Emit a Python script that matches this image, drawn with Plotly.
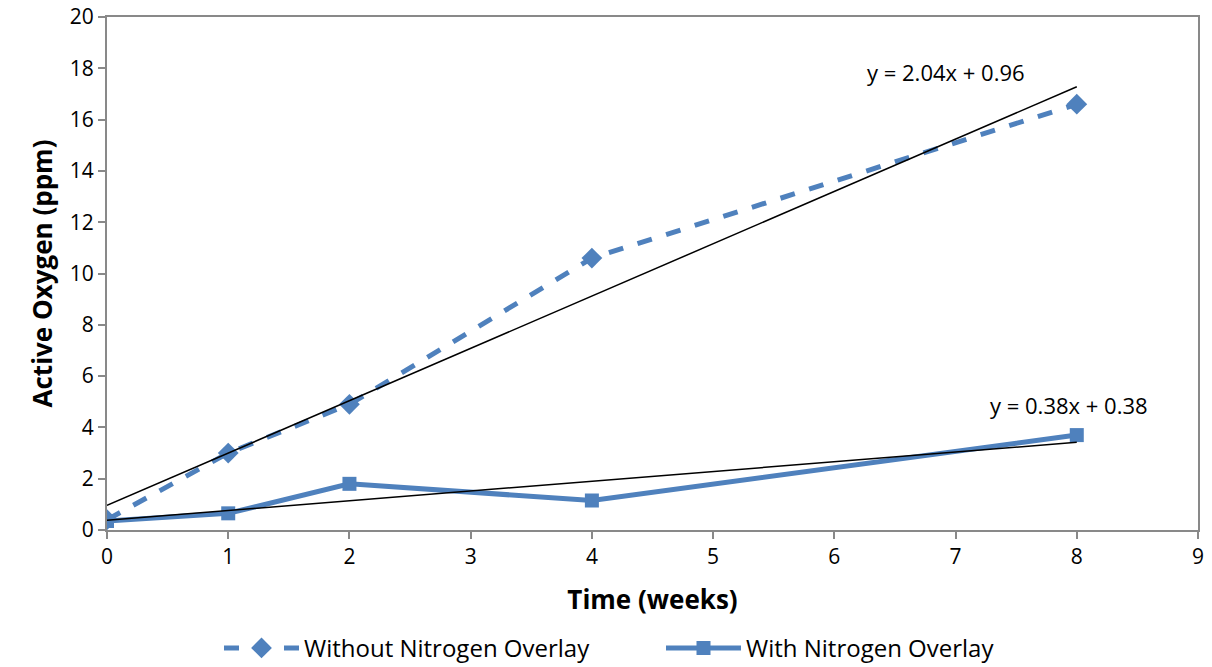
import plotly.graph_objects as go

weeks = [0, 1, 2, 4, 8]
without_n2 = [0.4, 3.0, 4.9, 10.6, 16.6]
with_n2 = [0.35, 0.65, 1.8, 1.15, 3.7]

trend_without = (2.04, 0.96)
trend_with = (0.38, 0.38)
trend_x = [0, 8]

x_ticks = list(range(0, 10))
y_ticks = list(range(0, 21, 2))

blue = "#4F81BD"
font = "Open Sans"

fig = go.Figure()
fig.add_trace(go.Scatter(
    x=weeks, y=without_n2, name="Without Nitrogen Overlay",
    mode="lines+markers",
    line=dict(color=blue, width=5, dash="dash"),
    marker=dict(symbol="diamond", size=16, color=blue),
))
fig.add_trace(go.Scatter(
    x=weeks, y=with_n2, name="With Nitrogen Overlay",
    mode="lines+markers",
    line=dict(color=blue, width=5),
    marker=dict(symbol="square", size=14, color=blue),
))
for m, b in (trend_without, trend_with):
    fig.add_trace(go.Scatter(
        x=trend_x, y=[m * x + b for x in trend_x], mode="lines",
        line=dict(color="black", width=1.5), showlegend=False, hoverinfo="skip",
    ))

fig.add_annotation(x=6.25, y=17.85, text="y = 2.04x + 0.96", showarrow=False,
                   xanchor="left", yanchor="middle", font=dict(size=22, color="black", family=font))
fig.add_annotation(x=7.27, y=4.87, text="y = 0.38x + 0.38", showarrow=False,
                   xanchor="left", yanchor="middle", font=dict(size=22, color="black", family=font))

fig.update_layout(
    width=1212, height=667,
    margin=dict(l=107, r=14, t=17, b=137),
    plot_bgcolor="white", paper_bgcolor="white",
    font=dict(family=font, color="black", size=20),
    legend=dict(orientation="h", xref="container", x=219 / 1212, xanchor="left",
                yref="container", y=0.028, yanchor="middle",
                font=dict(size=24), itemwidth=75, entrywidth=352,
                entrywidthmode="pixels", traceorder="normal"),
    showlegend=True,
)
fig.update_xaxes(
    range=[0, 9], tickvals=x_ticks, showgrid=False, zeroline=False,
    showline=True, linecolor="#898989", linewidth=2, mirror=True,
    ticks="outside", ticklen=7, tickcolor="#898989", tickwidth=1.5,
    title=dict(text="<b>Time (weeks)</b>", font=dict(size=26), standoff=22),
    tickfont=dict(size=21, family=font, color="black"), automargin=False,
)
fig.update_yaxes(
    range=[0, 20], tickvals=y_ticks, showgrid=False, zeroline=False,
    showline=True, linecolor="#898989", linewidth=2, mirror=True,
    ticks="outside", ticklen=7, tickcolor="#898989", tickwidth=1.5,
    ticksuffix="  ",
    title=dict(text="<b>Active Oxygen (ppm)</b>", font=dict(size=26), standoff=10),
    tickfont=dict(size=21, family=font, color="black"), automargin=False,
)

fig.write_html("out.html")
